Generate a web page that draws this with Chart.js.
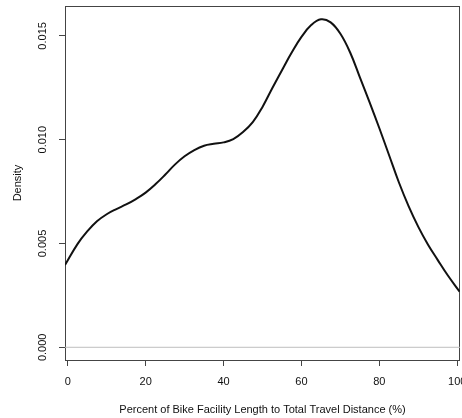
<!DOCTYPE html>
<html><head><meta charset="utf-8">
<script src="https://cdn.jsdelivr.net/npm/chart.js@4"></script>
<style>html,body{margin:0;padding:0;background:#fff}#wrap{width:462px;height:418px}</style>
</head><body><div id="wrap"><canvas id="c" width="462" height="418"></canvas></div>
<script>
const xValues = [-0.7, 2.5, 5, 7.5, 10, 12.5, 15, 17.5, 20, 22.5, 25, 27.5, 30, 32.5, 35, 37.5, 40, 42.5, 45, 47.5, 50, 52.5, 55, 57.5, 60, 62.5, 65, 67.5, 70, 72.5, 75, 77.5, 80, 82.5, 85, 87.5, 90, 92.5, 95, 97.5, 100.6];
const density = [0.00396, 0.00497, 0.00558, 0.00607, 0.00641, 0.00666, 0.00688, 0.00714, 0.00745, 0.00785, 0.00831, 0.00880, 0.00920, 0.00950, 0.00971, 0.00980, 0.00987, 0.01003, 0.01037, 0.01085, 0.01158, 0.01248, 0.01335, 0.01420, 0.01495, 0.01552, 0.01580, 0.01565, 0.01510, 0.01420, 0.01300, 0.01180, 0.01055, 0.00925, 0.00795, 0.00680, 0.00580, 0.00494, 0.00420, 0.00348, 0.00268];
const xTicks = [0, 20, 40, 60, 80, 100];
const yTicks = [0, 0.005, 0.010, 0.015];
const xTitle = 'Percent of Bike Facility Length to Total Travel Distance (%)';
const yTitle = 'Density';

const font = {family: '"Liberation Sans", Arial, sans-serif', size: 11};
const boxPlugin = {
  id: 'box',
  beforeDatasetsDraw(chart) {
    const {ctx, chartArea: a} = chart;
    ctx.save();
    ctx.strokeStyle = '#444';
    ctx.lineWidth = 1;
    ctx.strokeRect(Math.round(a.left) + 0.5, Math.round(a.top) + 0.5, Math.round(a.right - a.left) - 1, Math.round(a.bottom - a.top));
    ctx.restore();
  }
};
new Chart(document.getElementById('c'), {
  type: 'line',
  data: {
    datasets: [
      {data: [{x: -5, y: 0}, {x: 105, y: 0}], borderColor: '#bebebe', borderWidth: 1, pointRadius: 0, tension: 0},
      {data: xValues.map((x, i) => ({x, y: density[i]})), borderColor: '#111', borderWidth: 2, pointRadius: 0, tension: 0.4}
    ]
  },
  options: {
    responsive: false, animation: false, devicePixelRatio: 1,
    layout: {padding: {top: 6, right: 2, left: 0, bottom: 0}},
    plugins: {legend: {display: false}, tooltip: {enabled: false}},
    scales: {
      x: {
        type: 'linear', min: -0.7, max: 100.7,
        afterBuildTicks: s => { s.ticks = xTicks.map(v => ({value: v})); },
        afterFit: s => { s.height = 58; s.paddingLeft = 0; s.paddingRight = 0; },
        grid: {drawOnChartArea: false, drawTicks: true, tickLength: 6, color: '#444'},
        border: {display: false},
        ticks: {font, color: '#111', padding: 9, maxRotation: 0, autoSkip: false, callback: v => String(v)},
        title: {display: true, text: xTitle, font, color: '#111', padding: {top: 0, bottom: 1}}
      },
      y: {
        type: 'linear', min: -0.000612, max: 0.01644,
        afterBuildTicks: s => { s.ticks = yTicks.map(v => ({value: v})); },
        afterFit: s => { s.width = 65; s.paddingTop = 0; s.paddingBottom = 0; },
        grid: {drawOnChartArea: false, drawTicks: true, tickLength: 6, color: '#444'},
        border: {display: false},
        ticks: {font, color: '#111', padding: 2, minRotation: 90, maxRotation: 90, crossAlign: 'center', autoSkip: false, callback: v => v.toFixed(3)},
        title: {display: true, text: yTitle, font, color: '#111', padding: {top: 11, bottom: 0}}
      }
    }
  },
  plugins: [boxPlugin]
});
</script>
</body></html>
